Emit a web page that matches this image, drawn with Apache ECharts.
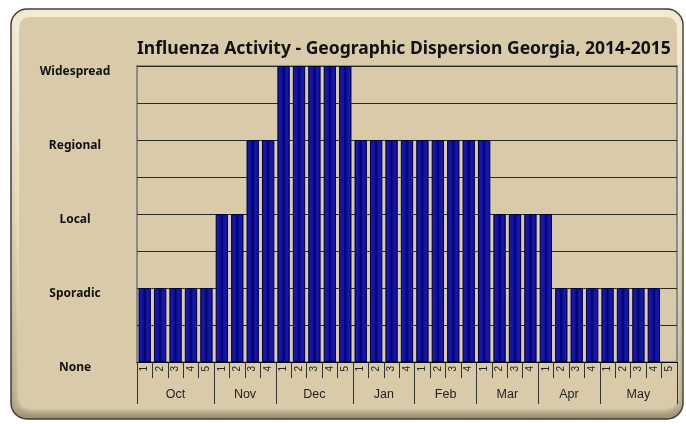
<!DOCTYPE html>
<html>
<head>
<meta charset="utf-8">
<script src="https://cdn.jsdelivr.net/npm/echarts@6/dist/echarts.min.js"></script>
<style>
html,body{margin:0;padding:0;background:#ffffff;}
#chart{width:686px;height:424px;}
</style>
</head>
<body>
<div id="chart"></div>
<script>
var titleText = 'Influenza Activity - Geographic Dispersion Georgia, 2014-2015';
var levels = ['None', 'Sporadic', 'Local', 'Regional', 'Widespread'];
var months = ['Oct', 'Nov', 'Dec', 'Jan', 'Feb', 'Mar', 'Apr', 'May'];
var weeksPerMonth = [5, 4, 5, 4, 4, 4, 4, 5];
var activity = [
  1, 1, 1, 1, 1,      // Oct
  2, 2, 3, 3,         // Nov
  4, 4, 4, 4, 4,      // Dec
  3, 3, 3, 3,         // Jan
  3, 3, 3, 3,         // Feb
  3, 2, 2, 2,         // Mar
  2, 1, 1, 1,         // Apr
  1, 1, 1, 1, null    // May
];

var weekLabels = [];
var boundaries = {0: true};
var monthHalf = [];
var pos = 0;
for (var m = 0; m < months.length; m++) {
  for (var w = 1; w <= weeksPerMonth[m]; w++) weekLabels.push(String(w));
  pos += weeksPerMonth[m];
  boundaries[pos] = true;
}
var total = pos;
for (var k = 0; k <= 2 * total; k++) monthHalf.push('');
pos = 0;
for (var m2 = 0; m2 < months.length; m2++) {
  monthHalf[2 * pos + weeksPerMonth[m2]] = months[m2];
  pos += weeksPerMonth[m2];
}

var chart = echarts.init(document.getElementById('chart'), null, {renderer: 'canvas'});
var barFill = new echarts.graphic.LinearGradient(0, 0, 1, 0, [
  {offset: 0, color: '#00006E'},
  {offset: 0.15, color: '#1818B0'},
  {offset: 0.38, color: '#1010A0'},
  {offset: 0.5, color: '#000058'},
  {offset: 0.62, color: '#1010A0'},
  {offset: 0.85, color: '#1818B0'},
  {offset: 1, color: '#00006E'}
]);

chart.setOption({
  animation: false,
  backgroundColor: '#ffffff',
  graphic: [
    {
      type: 'rect', z: -20, silent: true,
      shape: {x: 11, y: 9, width: 672, height: 410, r: 16},
      style: {
        fill: new echarts.graphic.LinearGradient(0, 0, 0, 1, [
          {offset: 0, color: '#F1EAD0'},
          {offset: 0.5, color: '#DCCFAE'},
          {offset: 0.97, color: '#B0A382'},
          {offset: 1, color: '#978A6A'}
        ]),
        stroke: '#3c3c3c', lineWidth: 1.5
      }
    },
    {
      type: 'rect', z: -19, silent: true,
      shape: {x: 19, y: 17, width: 658, height: 392, r: 10},
      style: {fill: '#D9CBAA', shadowBlur: 8, shadowColor: 'rgba(250,245,225,0.9)'}
    }
  ],
  title: {
    text: titleText,
    left: 132, top: 35,
    textStyle: {fontFamily: 'Noto Sans', fontWeight: 'bold', fontSize: 17.5, color: '#111111'}
  },
  grid: {left: 137, right: 9, top: 66, bottom: 62, show: true, borderColor: '#8a8a8a', borderWidth: 2},
  xAxis: [
    {
      type: 'category', data: weekLabels, position: 'bottom',
      axisLine: {show: true, lineStyle: {color: '#000000', width: 1}},
      axisTick: {show: true, interval: 0, length: 16, lineStyle: {color: '#333333', width: 1}},
      axisLabel: {interval: 0, rotate: 90, margin: 4, fontSize: 10, color: '#222222', fontFamily: 'Liberation Sans'},
      splitLine: {show: false}
    },
    {
      type: 'category', data: monthHalf, position: 'bottom', offset: 16, boundaryGap: false,
      axisLine: {show: false},
      axisTick: {show: true, length: 26, lineStyle: {color: '#333333', width: 1},
        interval: function (idx) { return idx % 2 === 0 && boundaries[idx / 2] === true; }},
      axisLabel: {interval: 0, margin: 10, fontSize: 12.5, color: '#222222', fontFamily: 'Liberation Sans'},
      splitLine: {show: false}
    }
  ],
  yAxis: {
    type: 'value', min: 0, max: 4, interval: 0.5,
    axisLine: {show: false}, axisTick: {show: false},
    splitLine: {show: true, lineStyle: {color: '#2a2a2a', width: 1}},
    axisLabel: {
      margin: 62, align: 'center', lineHeight: 11,
      fontFamily: 'Noto Sans', fontWeight: 'bold', fontSize: 12, color: '#111111',
      formatter: function (v) { return (v % 1 === 0) ? '\n' + levels[v] : ''; }
    }
  },
  series: [{
    type: 'bar', xAxisIndex: 0, data: activity, barCategoryGap: '20%',
    itemStyle: {color: barFill, borderColor: '#00003A', borderWidth: 1}
  }]
});
</script>
</body>
</html>
